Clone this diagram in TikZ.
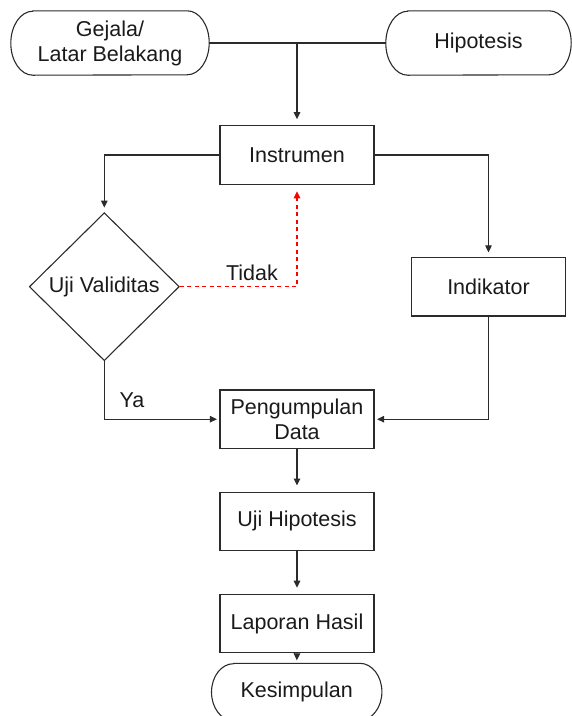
\documentclass[tikz,border=0pt]{standalone}
\usepackage{fontspec}
\setmainfont{Liberation Sans}
\usetikzlibrary{arrows.meta,shapes.geometric}
\definecolor{linec}{HTML}{2B2B2B}
\definecolor{textc}{HTML}{1A1A1A}
\newcommand\drawstadium[2]{%
  \draw[conn] ([xshift=22pt]#1.north west) -- ([xshift=-22pt]#1.north east)
    arc[start angle=90,end angle=-90,x radius=22pt,y radius=#2]
    -- ([xshift=22pt]#1.south west)
    arc[start angle=270,end angle=90,x radius=22pt,y radius=#2] -- cycle;}
\begin{document}
\begin{tikzpicture}[x=1pt,y=-1pt,
  font=\fontsize{21.5}{25}\selectfont,
  conn/.style={draw=linec, line width=1.1pt},
  box/.style={draw=linec, line width=1.1pt, minimum width=154pt, minimum height=58.5pt, inner sep=0pt, align=center, text=textc},
  term/.style={inner sep=0pt, align=center, text=textc},
  dec/.style={draw=linec, line width=1.1pt, diamond, minimum width=150pt, minimum height=148pt, inner sep=0pt, text=textc},
  arr/.style={conn, -{Triangle[width=6.5pt,length=7pt]}},
  redarr/.style={draw=red, line width=1.1pt, dash pattern=on 4pt off 3.5pt, -{Triangle[width=6.5pt,length=7pt]}},
  lbl/.style={text=textc}
]
\clip (0,0) rectangle (572,716);
% terminals
\node[term, minimum width=198pt, minimum height=64pt] (gej) at (110,43) {Gejala/\\Latar Belakang};
\node[term, minimum width=185pt, minimum height=64pt] (hip) at (478.5,43) {Hipotesis};
\node[term, minimum width=170pt, minimum height=57pt] (kes) at (296.7,692) {Kesimpulan};
\drawstadium{gej}{32pt}
\drawstadium{hip}{32pt}
\drawstadium{kes}{28.5pt}
% boxes
\node[box] (instr) at (297,155) {Instrumen};
\node[dec] (val) at (104.3,286.7) {Uji Validitas};
\node[box] (ind) at (488.5,286.7) {Indikator};
\node[box] (peng) at (297,419.2) {Pengumpulan\\Data};
\node[box] (uji) at (297,521.3) {Uji Hipotesis};
\node[box] (lap) at (297,623.5) {Laporan Hasil};
% labels
\node[lbl] (tidak) at (252,273) {Tidak};
\node[lbl] (ya) at (132,400) {Ya};
% connectors
\coordinate (j) at (297,43);
\draw[conn] (gej.east) -- (hip.west);
\draw[arr, shorten >=6pt] (j) -- (instr.north);
\draw[arr, shorten >=4.5pt] (instr.west) -| (val.north);
\draw[arr, shorten >=4.5pt] (instr.east) -| (ind.north);
\draw[redarr, shorten >=6.5pt] (val.east) -| (instr.south);
\draw[arr, shorten >=2.5pt] (val.south) |- (peng.west);
\draw[arr, shorten >=2.5pt] (ind.south) |- (peng.east);
\draw[arr, shorten >=6pt] (peng.south) -- (uji.north);
\draw[arr, shorten >=6pt] (uji.south) -- (lap.north);
\draw[arr, shorten >=3pt] (lap.south) -- (kes.north);
\end{tikzpicture}
\end{document}
